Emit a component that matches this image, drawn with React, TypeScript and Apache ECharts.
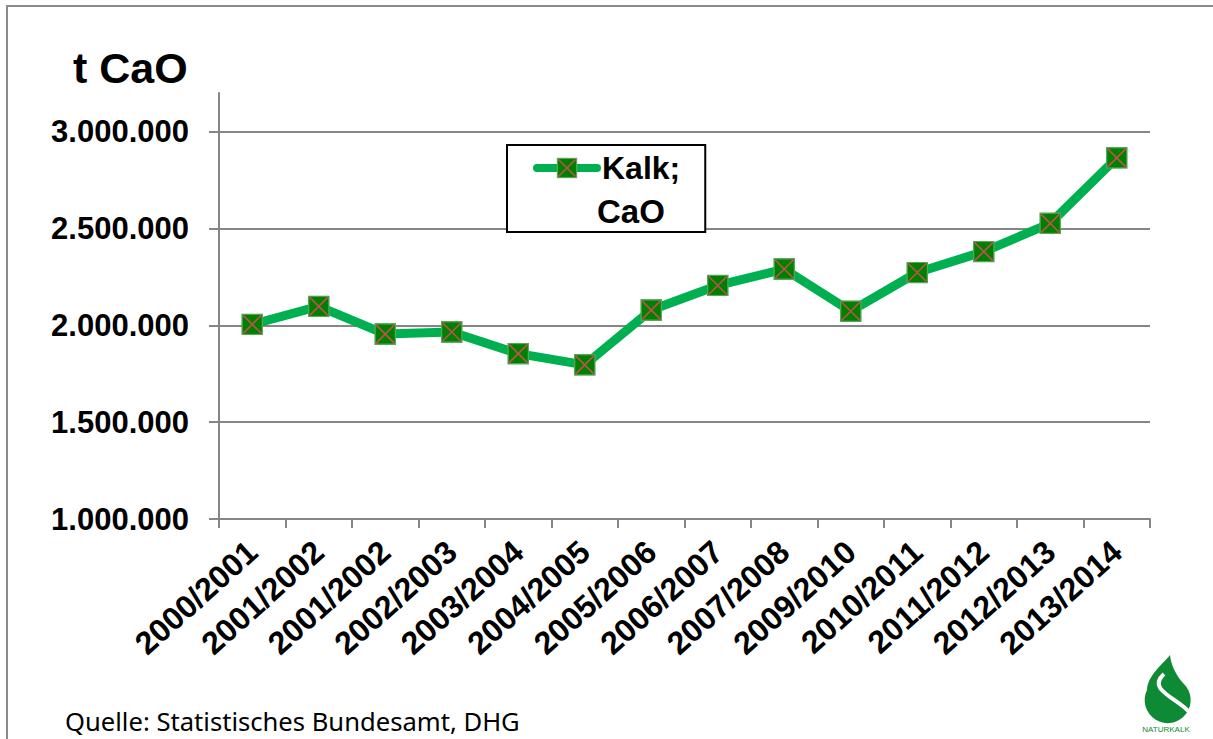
import React, { useEffect, useRef } from "react";
import * as echarts from "echarts";

const categories = [
  "2000/2001", "2001/2002", "2001/2002", "2002/2003", "2003/2004", "2004/2005", "2005/2006",
  "2006/2007", "2007/2008", "2009/2010", "2010/2011", "2011/2012", "2012/2013", "2013/2014",
];
const kalkValues = [
  2005000, 2098000, 1955000, 1966000, 1854000, 1796000, 2079000,
  2206000, 2291000, 2073000, 2273000, 2381000, 2527000, 2865000,
];
const yTicks = [1000000, 1500000, 2000000, 2500000, 3000000];
const seriesName = "Kalk; CaO";

const fmt = (v: number) => String(Math.round(v)).replace(/\B(?=(\d{3})+(?!\d))/g, ".");

const SYMBOL_SVG =
  "<svg xmlns='http://www.w3.org/2000/svg' width='22' height='22' viewBox='0 0 22 22'>" +
  "<rect x='0.75' y='0.75' width='20.5' height='20.5' fill='#008000' stroke='#5aa55a' stroke-width='1.5'/>" +
  "<path d='M2 2L20 20M20 2L2 20' stroke='#c0504d' stroke-width='1.6'/></svg>";
const markerSymbol = "image://data:image/svg+xml;charset=utf-8," + encodeURIComponent(SYMBOL_SVG);

const DROP_PATH =
  "M 2 -45 C -6 -35 -20 -25 -21 -10 A 23 23 0 1 0 15 -17 C 8 -25 3 -35 2 -45 Z";

let registered = false;

export default function App() {
  const ref = useRef<HTMLDivElement>(null);
  useEffect(() => {
    if (!registered) {
      echarts.graphic.registerShape("logo", echarts.graphic.extendPath(DROP_PATH, {}));
      registered = true;
    }
    const chart = echarts.init(ref.current!, null, { renderer: "svg" });
    const font = "'Liberation Sans', Arial, sans-serif";
    const axisGray = "#868686";
    chart.setOption({
      animation: false,
      backgroundColor: "#ffffff",
      grid: { left: 219, right: 63, top: 93, bottom: 220, containLabel: false },
      legend: {
        left: 507,
        top: 145,
        data: [seriesName],
        formatter: () => "Kalk;",
        selectedMode: false,
        itemWidth: 60,
        itemHeight: 26,
        padding: [5, 25, 46, 26],
        borderColor: "#000",
        borderWidth: 2,
        borderRadius: 0,
        backgroundColor: "#fff",
        lineStyle: { width: 8, cap: "round" },
        textStyle: { fontSize: 32, fontWeight: "bold", color: "#000", fontFamily: font, lineHeight: 36 },
      },
      xAxis: {
        type: "category",
        data: categories,
        boundaryGap: true,
        axisLine: { lineStyle: { color: axisGray, width: 2 } },
        axisTick: { show: true, length: 9, lineStyle: { color: axisGray, width: 2 } },
        axisLabel: {
          interval: 0,
          rotate: 42,
          margin: 28,
          color: "#000",
          fontSize: 32,
          fontWeight: "bold",
          fontFamily: font,
        },
        splitLine: { show: false },
      },
      yAxis: {
        type: "value",
        min: 1000000,
        max: 3200000,
        interval: 500000,
        axisLine: { show: true, lineStyle: { color: axisGray, width: 2 } },
        axisTick: {
          show: true,
          length: 10,
          customValues: yTicks,
          lineStyle: { color: axisGray, width: 2 },
        },
        axisLabel: {
          margin: 30,
          color: "#000",
          fontSize: 31,
          fontWeight: "bold",
          fontFamily: font,
          formatter: (v: number) => (yTicks.indexOf(v) >= 0 ? fmt(v) : ""),
        },
        splitLine: { show: true, lineStyle: { color: axisGray, width: 2 } },
      },
      series: [
        {
          name: seriesName,
          type: "line",
          data: kalkValues,
          symbol: markerSymbol,
          symbolSize: 22,
          showAllSymbol: true,
          lineStyle: { color: "#00B050", width: 9, cap: "round", join: "round" },
          itemStyle: { color: "#00B050" },
        },
      ],
      graphic: [
        {
          type: "polyline",
          shape: { points: [[7, 739], [7, 6], [1213, 6]] },
          style: { stroke: "#8a8a8a", lineWidth: 2, fill: "none" },
          silent: true,
        },
        {
          type: "text",
          x: 73,
          y: 68,
          style: {
            text: "t CaO",
            fontSize: 43,
            fontWeight: "bold",
            fontFamily: font,
            fill: "#000",
            verticalAlign: "middle",
          },
        },
        {
          type: "text",
          x: 597,
          y: 211,
          z: 100,
          style: {
            text: "CaO",
            fontSize: 33,
            fontWeight: "bold",
            fontFamily: font,
            fill: "#000",
            verticalAlign: "middle",
          },
        },
        {
          type: "text",
          x: 65,
          y: 721,
          style: {
            text: "Quelle: Statistisches Bundesamt, DHG",
            fontSize: 25.6,
            fontFamily: "'Noto Sans', 'Open Sans', sans-serif",
            fill: "#000",
            verticalAlign: "middle",
          },
        },
        {
          type: "logo",
          x: 1168,
          y: 700,
          style: { fill: "#0e8a34" },
        },
        {
          type: "bezierCurve",
          shape: { x1: 1164, y1: 674, cpx1: 1146, cpy1: 690, cpx2: 1178, cpy2: 698, x2: 1190, y2: 713 },
          style: { stroke: "#ffffff", lineWidth: 4, fill: "none" },
        },
        {
          type: "text",
          x: 1166,
          y: 729,
          style: {
            text: "NATURKALK",
            fontSize: 8,
            fontFamily: font,
            fill: "#0e8a34",
            align: "center",
            verticalAlign: "middle",
          },
        },
      ],
    });
    return () => chart.dispose();
  }, []);
  return (
    <div
      ref={ref}
      style={{ position: "fixed", left: 0, top: 0, width: 1213, height: 739, background: "#fff" }}
    />
  );
}
